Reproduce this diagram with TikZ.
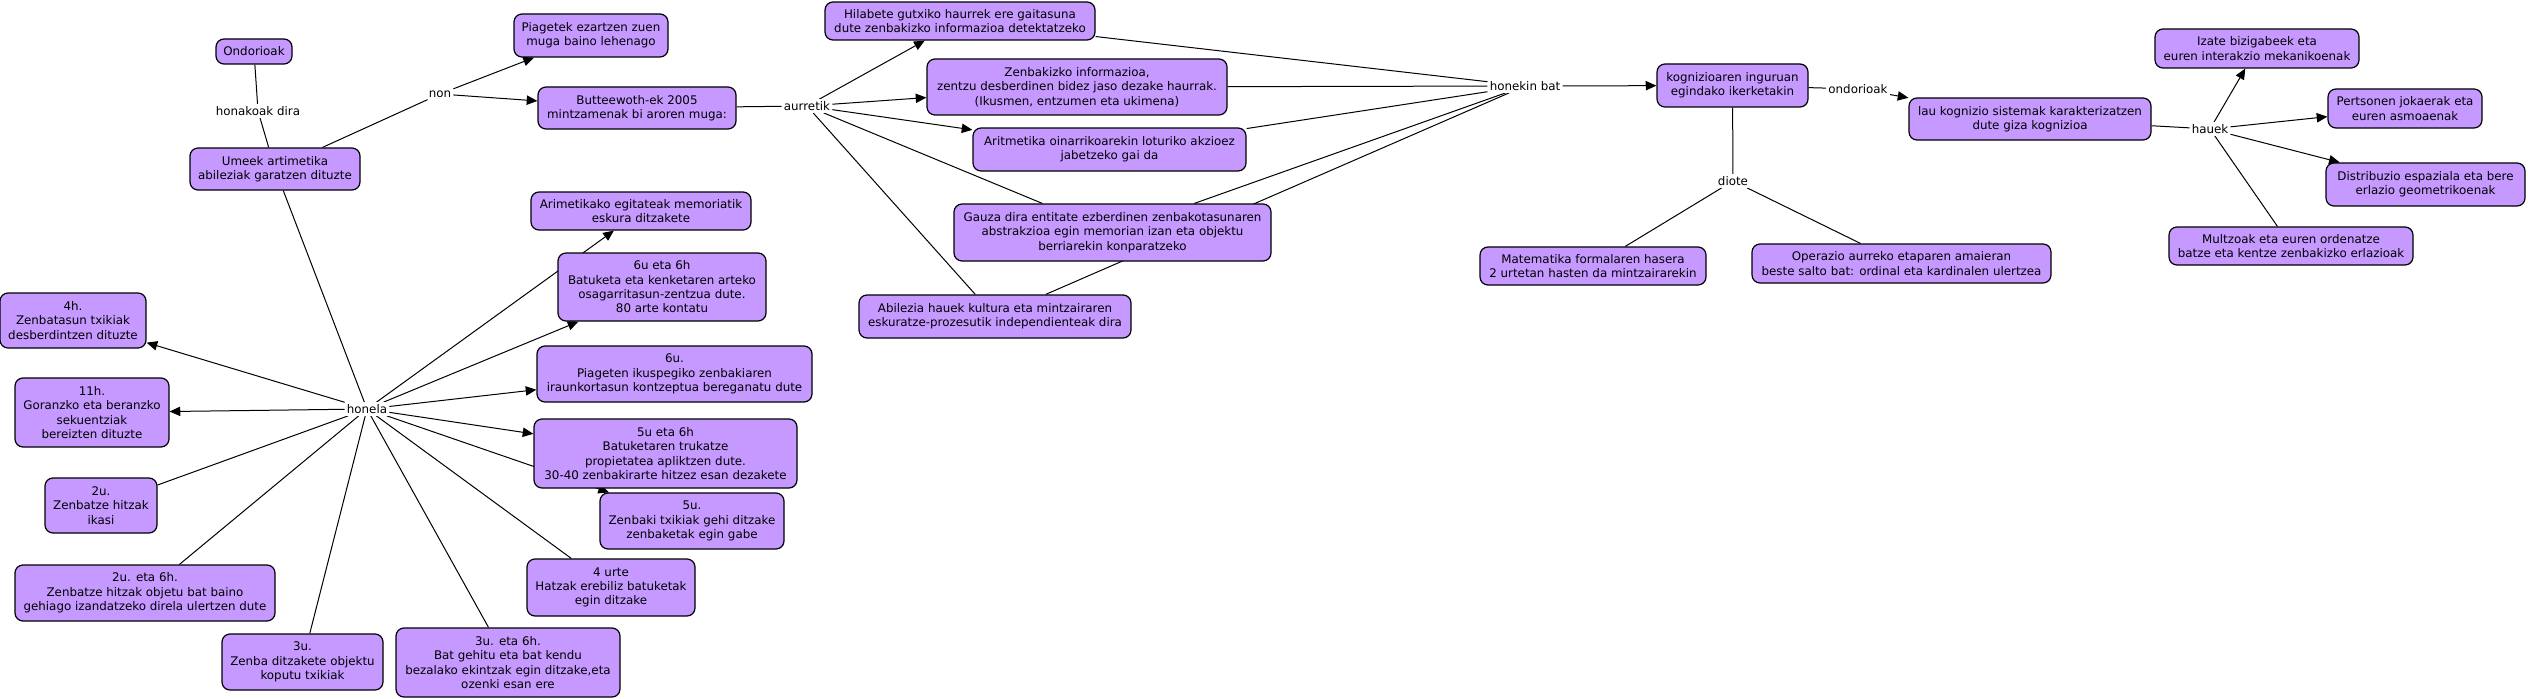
\documentclass[tikz,border=0pt]{standalone}
\usepackage{fontspec}
\setmainfont{DejaVu Sans}
\usetikzlibrary{arrows.meta}
\definecolor{cfill}{RGB}{197,153,255}
\pgfdeclarelayer{back}
\pgfdeclarelayer{bg}
\pgfsetlayers{back,bg,main}
\begin{document}
\begin{tikzpicture}[x=0.75pt,y=-0.75pt,
  txt/.style={font=\fontsize{8.9}{10.75}\selectfont},
  concept/.style={txt,draw=black,line width=0.9pt,fill=cfill,rounded corners=6pt,align=center,inner sep=1pt},
  sz/.style 2 args={minimum width=#1*0.75pt,minimum height=#2*0.75pt},
  link/.style={txt,fill=white,inner sep=1.5pt},
  conn/.style={line width=0.75pt,draw=black},
  arr/.style={conn,-{Triangle[length=8pt,width=7pt]}},
]
\begin{pgfonlayer}{back}
\fill[white] (0,0) rectangle (2528,699);
\end{pgfonlayer}
\useasboundingbox (0,0) rectangle (2528,699);

% concepts
\node[concept,sz={76}{25}] (ondN) at (254,51.5) {Ondorioak};
\node[concept,sz={170}{42}] (umeek) at (275,169) {Umeek artimetika\\abileziak garatzen dituzte};
\node[concept,sz={154}{43}] (piag) at (591,35.5) {Piagetek ezartzen zuen\\muga baino lehenago};
\node[concept,sz={198}{42}] (butte) at (637,108) {Butteewoth-ek 2005\\mintzamenak bi aroren muga:};
\node[concept,sz={270}{38}] (hila) at (960,21) {Hilabete gutxiko haurrek ere gaitasuna\\dute zenbakizko informazioa detektatzeko};
\node[concept,sz={300}{56}] (zenb) at (1077,87) {Zenbakizko informazioa,\\zentzu desberdinen bidez jaso dezake haurrak.\\(Ikusmen, entzumen eta ukimena)};
\node[concept,sz={273}{43}] (arit) at (1109.5,149.5) {Aritmetika oinarrikoarekin loturiko akzioez\\jabetzeko gai da};
\node[concept,sz={317}{57}] (gauza) at (1112.5,232.5) {Gauza dira entitate ezberdinen zenbakotasunaren\\abstrakzioa egin memorian izan eta objektu\\berriarekin konparatzeko};
\node[concept,sz={272}{43}] (abil) at (995,316.5) {Abilezia hauek kultura eta mintzairaren\\eskuratze-prozesutik independienteak dira};
\node[concept,sz={151}{43}] (kogni) at (1732.5,85.5) {kognizioaren inguruan\\egindako ikerketakin};
\node[concept,sz={242}{42}] (lau) at (2030,119) {lau kognizio sistemak karakterizatzen\\dute giza kognizioa};
\node[concept,sz={204}{39}] (izate) at (2257,48.5) {Izate bizigabeek eta\\euren interakzio mekanikoenak};
\node[concept,sz={154}{39}] (pert) at (2405,108.5) {Pertsonen jokaerak eta\\euren asmoaenak};
\node[concept,sz={199}{43}] (distr) at (2425.5,184.5) {Distribuzio espaziala eta bere\\erlazio geometrikoenak};
\node[concept,sz={244}{38}] (multz) at (2291,246) {Multzoak eta euren ordenatze\\batze eta kentze zenbakizko erlazioak};
\node[concept,sz={226}{38}] (matem) at (1593,266) {Matematika formalaren hasera\\2 urtetan hasten da mintzairarekin};
\node[concept,sz={299}{39}] (oper) at (1901.5,263.5) {Operazio aurreko etaparen amaieran\\beste salto bat: ordinal eta kardinalen ulertzea};
\node[concept,sz={220}{38}] (arim) at (641,211) {Arimetikako egitateak memoriatik\\eskura ditzakete};
\node[concept,sz={208}{68}] (usixsix) at (662,287) {6u eta 6h\\Batuketa eta kenketaren arteko\\osagarritasun-zentzua dute.\\80 arte kontatu};
\node[concept,sz={275}{56}] (usix) at (674.5,374) {6u.\\Piageten ikuspegiko zenbakiaren\\iraunkortasun kontzeptua bereganatu dute};
\node[concept,sz={263}{69}] (ufivesix) at (665.5,453.5) {5u eta 6h\\Batuketaren trukatze\\propietatea apliktzen dute.\\30-40 zenbakirarte hitzez esan dezakete};
\node[concept,sz={184}{56}] (ufive) at (692,521) {5u.\\Zenbaki txikiak gehi ditzake\\zenbaketak egin gabe};
\node[concept,sz={168}{57}] (urte) at (611,587.5) {4 urte\\Hatzak erebiliz batuketak\\egin ditzake};
\node[concept,sz={224}{69}] (uthreesix) at (508,662.5) {3u. eta 6h.\\Bat gehitu eta bat kendu\\bezalako ekintzak egin ditzake,eta\\ozenki esan ere};
\node[concept,sz={161}{56}] (uthree) at (302.5,662) {3u.\\Zenba ditzakete objektu\\koputu txikiak};
\node[concept,sz={260}{56}] (utwosix) at (145,593) {2u. eta 6h.\\Zenbatze hitzak objetu bat baino\\gehiago izandatzeko direla ulertzen dute};
\node[concept,sz={112}{55}] (utwo) at (101,505.5) {2u.\\Zenbatze hitzak\\ikasi};
\node[concept,sz={154}{69}] (heleven) at (92,412.5) {11h.\\Goranzko eta beranzko\\sekuentziak\\bereizten dituzte};
\node[concept,sz={146}{55}] (hfour) at (73,320.5) {4h.\\Zenbatasun txikiak\\desberdintzen dituzte};

% linking phrases
\node[link] (honak) at (258,111) {honakoak dira};
\node[link] (non) at (440,94) {non};
\node[link] (aurr) at (807,106) {aurretik};
\node[link] (honek) at (1525,86) {honekin bat};
\node[link] (ondL) at (1858,89) {ondorioak};
\node[link] (diote) at (1733,181) {diote};
\node[link] (hauek) at (2210,129) {hauek};
\node[link] (honela) at (367,409) {honela};

\begin{pgfonlayer}{bg}
\draw[conn] (ondN) -- (honak);
\draw[conn] (honak) -- (umeek);
\draw[conn] (umeek) -- (non);
\draw[arr] (non) -- (piag);
\draw[arr] (non) -- (butte);
\draw[conn] (butte) -- (aurr);
\draw[arr] (aurr) -- (hila);
\draw[arr] (aurr) -- (zenb);
\draw[arr] (aurr) -- (arit);
\draw[conn] (aurr) -- (gauza);
\draw[conn] (aurr) -- (abil);
\draw[conn] (hila) -- (honek);
\draw[conn] (zenb) -- (honek);
\draw[conn] (arit) -- (honek);
\draw[conn] (gauza) -- (honek);
\draw[conn] (abil) -- (honek);
\draw[arr] (honek) -- (kogni);
\draw[conn] (kogni) -- (ondL);
\draw[arr] (ondL) -- (lau);
\draw[conn] (kogni) -- (diote);
\draw[conn] (diote) -- (matem);
\draw[conn] (diote) -- (oper);
\draw[conn] (lau) -- (hauek);
\draw[arr] (hauek) -- (izate);
\draw[arr] (hauek) -- (pert);
\draw[arr] (hauek) -- (distr);
\draw[conn] (hauek) -- (multz);
\draw[conn] (umeek) -- (honela);
\draw[arr] (honela) -- (hfour);
\draw[arr] (honela) -- (heleven);
\draw[conn] (honela) -- (utwo);
\draw[conn] (honela) -- (utwosix);
\draw[conn] (honela) -- (uthree);
\draw[conn] (honela) -- (uthreesix);
\draw[conn] (honela) -- (urte);
\draw[arr] (honela) -- (ufive);
\draw[arr] (honela) -- (ufivesix);
\draw[arr] (honela) -- (usix);
\draw[arr] (honela) -- (usixsix);
\draw[arr] (honela) -- (arim);
\end{pgfonlayer}
\end{tikzpicture}
\end{document}
